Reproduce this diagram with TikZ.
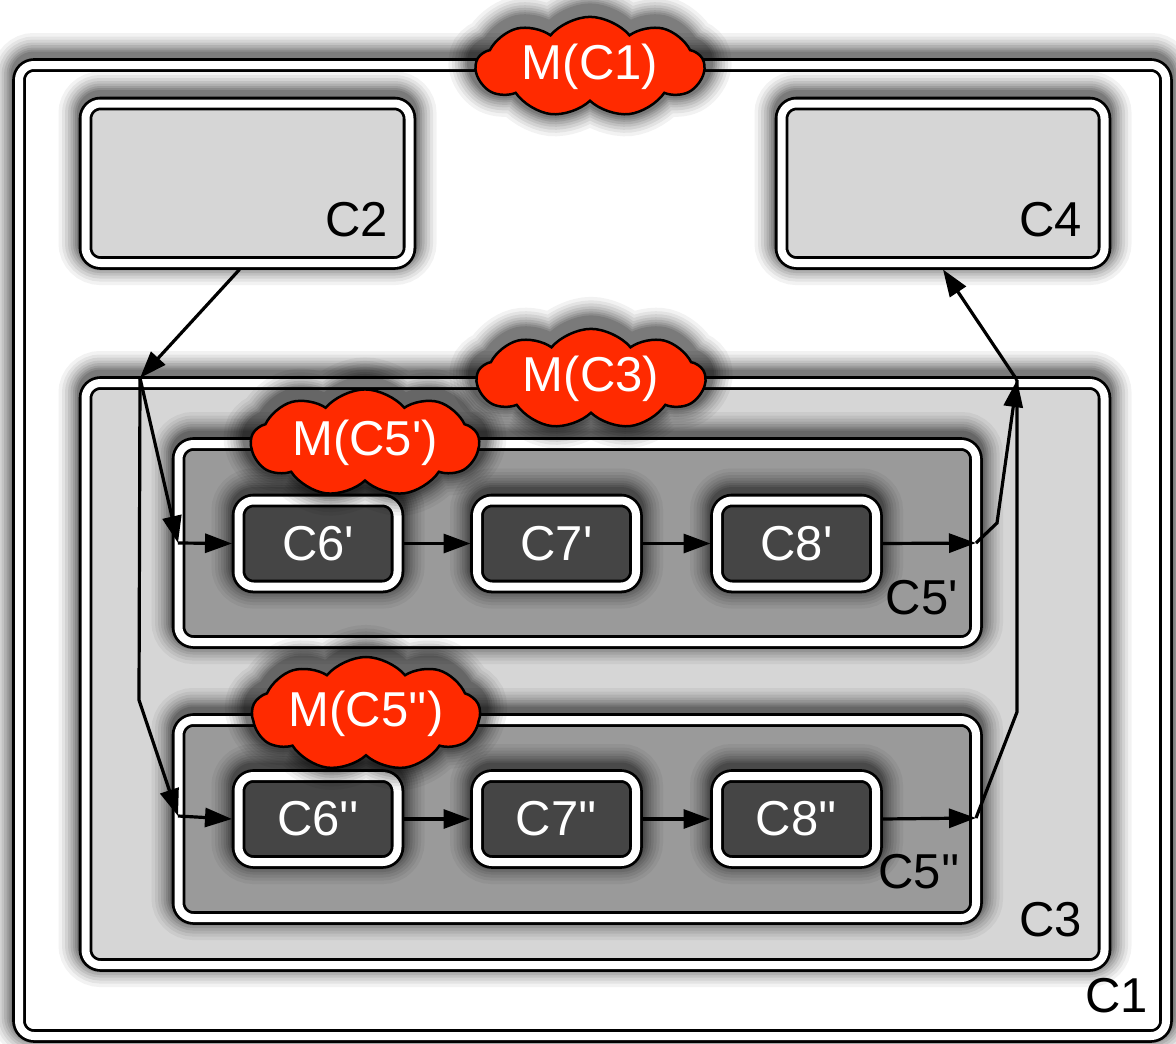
\documentclass[tikz,border=0pt]{standalone}
\usepackage{fontspec}
\newfontfamily\hv{Liberation Sans}
\usetikzlibrary{shapes.symbols,arrows.meta}
\definecolor{cloudred}{HTML}{FF2A00}
\definecolor{paleg}{HTML}{D6D6D6}
\definecolor{midg}{HTML}{9A9A9A}
\definecolor{darkg}{HTML}{454545}
\tikzset{
  glow/.style={
    preaction={draw=black,draw opacity=.05,line width=54pt,transform canvas={yshift=5pt}},
    preaction={draw=black,draw opacity=.06,line width=47pt,transform canvas={yshift=5pt}},
    preaction={draw=black,draw opacity=.07,line width=41pt,transform canvas={yshift=5pt}},
    preaction={draw=black,draw opacity=.08,line width=35pt,transform canvas={yshift=5pt}},
    preaction={draw=black,draw opacity=.09,line width=30pt,transform canvas={yshift=5pt}},
    preaction={draw=black,draw opacity=.10,line width=25pt,transform canvas={yshift=5pt}},
    preaction={draw=black,draw opacity=.11,line width=21pt,transform canvas={yshift=5pt}},
    preaction={draw=black,draw opacity=.12,line width=17pt,transform canvas={yshift=5pt}}},
  box/.style={glow, rectangle, rounded corners=15pt, inner sep=0pt, outer sep=6.5pt,
    postaction={draw=black, line width=2.8pt, double=white, double distance=8pt}},
  txt/.style={font=\hv\fontsize{49}{50}\selectfont},
  lbl/.style={txt, inner sep=0pt, anchor=base east},
  inbox/.style={box, fill=darkg, text=white, txt, minimum width=159pt, minimum height=86pt},
  cloudm/.style={glow, cloud, cloud puffs=9, cloud puff arc=100, aspect=2.6,
    fill=cloudred, draw=black, line width=2.5pt, text=white, txt, inner sep=0pt,
    minimum width=228pt, minimum height=92pt},
  cloudsm/.style={cloudm, minimum height=70pt},
  arr/.style={draw=black, line width=3.2pt, -{Triangle[length=27pt,width=19pt]}},
  ln/.style={draw=black, line width=3.2pt},
}
\begin{document}
\begin{tikzpicture}[x=1pt,y=-1pt]
\useasboundingbox (0,0) rectangle (1176,1044);
% outer container
\node[box, fill=white, minimum width=1147pt, minimum height=971pt] (c1) at (592.5,550.5) {};
\node[lbl] (c1l) at (1148,1012) {C1};
% top components
\node[box, fill=paleg, minimum width=324pt, minimum height=159.5pt] (c2) at (247.5,183.25) {};
\node[lbl] (c2l) at (388,236) {C2};
\node[box, fill=paleg, minimum width=323pt, minimum height=159.5pt] (c4) at (943,183.25) {};
\node[lbl] (c4l) at (1082,236) {C4};
% composite C3
\node[box, fill=paleg, minimum width=1019pt, minimum height=582pt] (c3) at (595,674) {};
\node[lbl] (c3l) at (1082,936) {C3};
% two pipelines
\node[box, fill=midg, minimum width=797.5pt, minimum height=198pt] (c5a) at (577.25,543) {};
\node[lbl] (c5al) at (958,614) {C5'};
\node[box, fill=midg, minimum width=797.5pt, minimum height=198pt] (c5b) at (577.25,819) {};
\node[lbl] (c5bl) at (960,888) {C5''};
\node[inbox] (c6a) at (318,543.5) {C6'};
\node[inbox] (c7a) at (556.5,543.5) {C7'};
\node[inbox] (c8a) at (796.5,543.5) {C8'};
\node[inbox] (c6b) at (318,819) {C6''};
\node[inbox] (c7b) at (556.5,819) {C7''};
\node[inbox] (c8b) at (796.5,819) {C8''};
% managers
\node[cloudm] (m1) at (590,67) {M(C1)};
\node[cloudm] (m3) at (591,379) {M(C3)};
\node[cloudsm] (m5a) at (365,443) {M(C5')};
\node[cloudsm] (m5b) at (366,714) {M(C5'')};
% junction points
\coordinate (jL) at (140,378);
\coordinate (jA) at (178,543);
\coordinate (kL) at (139,700);
\coordinate (jB) at (178,816);
\coordinate (jC) at (976,543);
\coordinate (kA) at (997,523);
\coordinate (jR) at (1017,380);
\coordinate (jD) at (976,818);
\coordinate (kB) at (1017,712);
% connectors
\draw[arr] ([xshift=-8pt]c2.south) -- (jL);
\draw[arr] (jL) -- (jA);
\draw[arr] (jA) -- (c6a.west);
\draw[arr] (jL) -- (kL) -- (jB);
\draw[arr] (jB) -- (c6b.west);
\draw[arr] (c6a.east) -- (c7a.west);
\draw[arr] (c7a.east) -- (c8a.west);
\draw[arr] (c6b.east) -- (c7b.west);
\draw[arr] (c7b.east) -- (c8b.west);
\draw[arr] (c8a.east) -- (jC);
\draw[arr] (c8b.east) -- (jD);
\draw[ln] (jD) -- (kB) -- (jR);
\draw[arr] (jC) -- (kA) -- (jR);
\draw[arr] (jR) -- (c4.south);
\end{tikzpicture}
\end{document}
